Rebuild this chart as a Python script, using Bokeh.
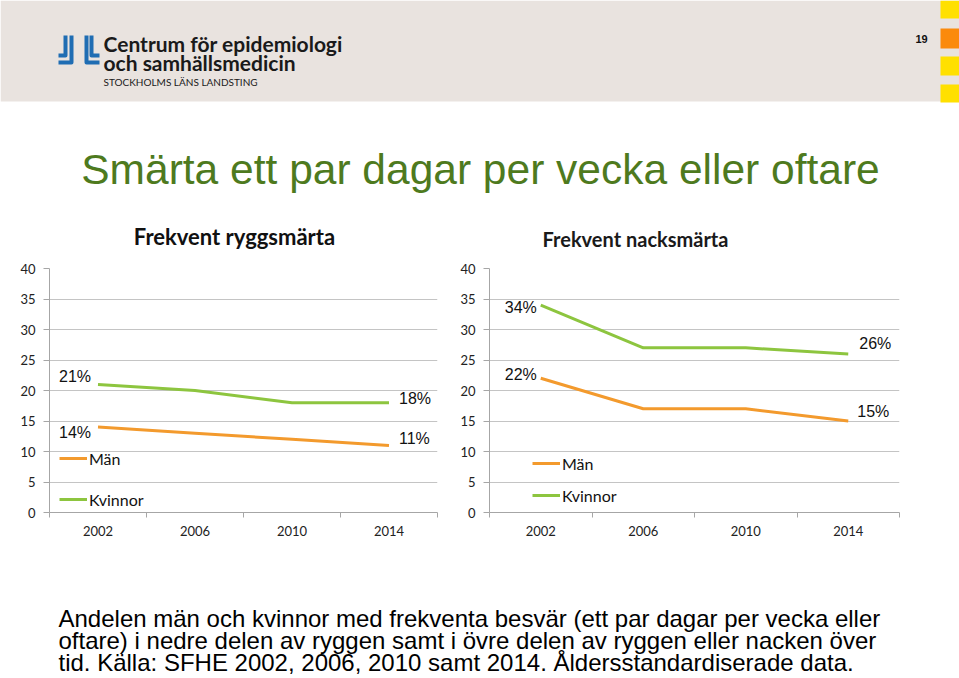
from bokeh.plotting import figure
from bokeh.layouts import column, row
from bokeh.models import Range1d, FixedTicker, Legend, LegendItem, BasicTickFormatter
from bokeh.core.properties import value
from bokeh.embed import file_html
from bokeh.resources import INLINE

# ---------------- data ----------------
years = [2002, 2006, 2010, 2014]
rygg_man = [14, 13, 12, 11]
rygg_kvinnor = [21, 20, 18, 18]
nacke_man = [22, 17, 17, 15]
nacke_kvinnor = [34, 27, 27, 26]
y_ticks = [0, 5, 10, 15, 20, 25, 30, 35, 40]
period_edges = [2000, 2004, 2008, 2012, 2016]
series_names = ["Män", "Kvinnor"]
chart_titles = ["Frekvent ryggsmärta", "Frekvent nacksmärta"]
main_title = "Smärta ett par dagar per vecka eller oftare"
caption_lines = [
    "Andelen män och kvinnor med frekventa besvär (ett par dagar per vecka eller",
    "oftare) i nedre delen av ryggen  samt i övre delen av ryggen eller nacken över",
    "tid. Källa: SFHE 2002, 2006, 2010 samt 2014. Åldersstandardiserade data.",
]
logo_lines = ["Centrum för epidemiologi", "och samhällsmedicin", "STOCKHOLMS LÄNS LANDSTING"]
page_number = "19"

ORANGE = "#f39a2d"
GREEN = "#8dc53f"
GRID = "#c4c4c4"
AXIS = "#a6a6a6"
CAL = "Lato"
ARIAL = "Liberation Sans"
W = 959
TH = 252
CHART_H = 310


def make_chart(man, kvinnor, width, left_b, frame_w, top, offs, leg_loc, leg_spacing):
    height = CHART_H
    p = figure(width=width, height=height, output_backend="svg", toolbar_location=None,
               x_range=Range1d(period_edges[0], period_edges[-1]),
               y_range=Range1d(y_ticks[0], y_ticks[-1]),
               min_border_left=left_b, min_border_right=width - left_b - frame_w,
               min_border_top=top, min_border_bottom=height - top - 247)
    p.outline_line_color = None

    p.xgrid.visible = False
    p.ygrid.ticker = FixedTicker(ticks=y_ticks)
    p.ygrid.grid_line_color = GRID

    yax = p.yaxis[0]
    yax.ticker = FixedTicker(ticks=y_ticks)
    yax.axis_line_color = AXIS
    yax.major_tick_line_color = AXIS
    yax.major_tick_out = 6
    yax.major_tick_in = 0
    yax.minor_tick_line_color = None
    yax.major_label_standoff = 8
    yax.major_label_text_font = CAL
    yax.major_label_text_font_size = "13px"
    yax.major_label_text_color = "#222222"

    xax = p.xaxis[0]
    xax.ticker = FixedTicker(ticks=years, minor_ticks=period_edges)
    xax.formatter = BasicTickFormatter(use_scientific=False)
    xax.axis_line_color = AXIS
    xax.major_tick_out = 0
    xax.major_tick_in = 0
    xax.minor_tick_line_color = AXIS
    xax.minor_tick_out = 5
    xax.minor_tick_in = 0
    xax.major_label_standoff = 8
    xax.major_label_text_font = CAL
    xax.major_label_text_font_size = "13px"
    xax.major_label_text_color = "#222222"

    r_m = p.line(years, man, line_color=ORANGE, line_width=3, line_join="round")
    r_k = p.line(years, kvinnor, line_color=GREEN, line_width=3, line_join="round")

    first_x = [years[0], years[0]]
    first_y = [kvinnor[0], man[0]]
    last_x = [years[-1], years[-1]]
    last_y = [kvinnor[-1], man[-1]]
    p.text(x=first_x, y=first_y, text=[f"{v}%" for v in first_y],
           x_offset=[offs[0][0], offs[1][0]], y_offset=[offs[0][1], offs[1][1]],
           text_align="right", text_baseline="middle", text_font=value(ARIAL),
           text_font_size="16px", text_color="#111111")
    p.text(x=last_x, y=last_y, text=[f"{v}%" for v in last_y],
           x_offset=[offs[2][0], offs[3][0]], y_offset=[offs[2][1], offs[3][1]],
           text_align="left", text_baseline="middle", text_font=value(ARIAL),
           text_font_size="16px", text_color="#111111")

    legend = Legend(items=[LegendItem(label=series_names[0], renderers=[r_m]),
                           LegendItem(label=series_names[1], renderers=[r_k])],
                    location=leg_loc, orientation="vertical",
                    padding=0, margin=0, spacing=leg_spacing,
                    glyph_width=28, glyph_height=20, label_height=20,
                    label_standoff=2, border_line_color=None,
                    background_fill_alpha=0,
                    label_text_font=CAL, label_text_font_size="16px",
                    label_text_color="#111111")
    p.add_layout(legend)
    return p


left = make_chart(rygg_man, rygg_kvinnor, 448, 49, 388, 265 - TH,
                  [(-7, -8), (-7, 5), (10, -4), (10, -7)], (10, 3), 21)
right = make_chart(nacke_man, nacke_kvinnor, 511, 41, 410, 268 - TH,
                   [(-4, 2), (-4, -4), (11, -10), (9, -10)], (43, 7), 12)

# ---------------- header + main title + chart titles ----------------
top = figure(width=W, height=TH, output_backend="svg", toolbar_location=None,
             x_range=Range1d(0, W), y_range=Range1d(TH, 0),
             min_border=0)
top.axis.visible = False
top.grid.visible = False
top.outline_line_color = None
top.quad(left=[0], right=[W], top=[0], bottom=[101], fill_color="#e9e3df", line_color=None)
top.quad(left=[940] * 4, right=[W] * 4, top=[0, 28, 56, 84],
         bottom=[18, 48, 75, 102],
         fill_color=["#ffe000", "#fb8a0c", "#ffe000", "#ffe000"], line_color=None)
# logo mark
top.multi_line(xs=[[58, 65, 65], [58, 71, 71], [99, 86, 86], [99, 91, 91]],
               ys=[[55, 55, 35], [62, 62, 35], [62, 62, 35], [55, 55, 35]],
               line_color="#1f6db3", line_width=4, line_join="round")
top.text(x=[103, 103], y=[43, 62], text=logo_lines[:2], text_align="left",
         text_baseline="middle", text_font=value(CAL), text_font_size="21px",
         text_font_style="bold", text_color="#1a1a1a")
top.text(x=[103], y=[81], text=logo_lines[2:], text_align="left",
         text_baseline="middle", text_font=value(CAL), text_font_size="10px",
         text_color="#1a1a1a")
top.text(x=[921], y=[38], text=[page_number], text_align="center",
         text_baseline="middle", text_font=value(ARIAL), text_font_size="11px",
         text_font_style="bold", text_color="#111111")
top.text(x=[480], y=[169], text=[main_title], text_align="center",
         text_baseline="middle", text_font=value(ARIAL), text_font_size="42.5px",
         text_color="#4e7a1e")
top.text(x=[234], y=[236], text=chart_titles[:1], text_align="center",
         text_baseline="middle", text_font=value(CAL), text_font_size="22px",
         text_font_style="bold", text_color="#111111")
top.text(x=[635], y=[238], text=chart_titles[1:], text_align="center",
         text_baseline="middle", text_font=value(CAL), text_font_size="20px",
         text_font_style="bold", text_color="#1a1a1a")

# ---------------- caption ----------------
CH = 678 - TH - CHART_H
cap = figure(width=W, height=CH, output_backend="svg", toolbar_location=None,
             x_range=Range1d(0, W), y_range=Range1d(CH, 0), min_border=0)
cap.axis.visible = False
cap.grid.visible = False
cap.outline_line_color = None
y0 = TH + CHART_H
cap.text(x=[58, 58, 58], y=[618 - y0, 640 - y0, 662 - y0], text=caption_lines,
         text_align="left", text_baseline="middle", text_font=value(ARIAL),
         text_font_size="24px", text_color="#000000")

layout = column(top, row(left, right, spacing=0), cap, spacing=0)
open("out.html", "w").write(file_html(layout, INLINE))
